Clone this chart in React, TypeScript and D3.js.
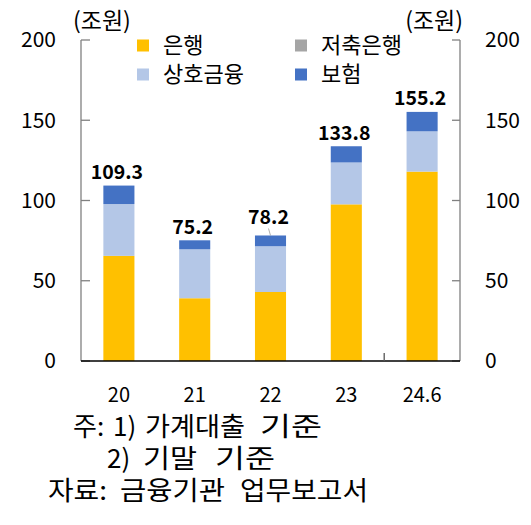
import React from 'react';
import * as d3 from 'd3';

// 가계대출 잔액 (조원)
const categories = ['20', '21', '22', '23', '24.6'];
const bank = [65.5, 39.1, 43.0, 97.6, 118.0];
const savingsBank = [0, 0, 0, 0, 0];
const mutual = [32.3, 30.5, 28.5, 26.1, 25.1];
const insurance = [11.5, 5.6, 6.7, 10.1, 12.1];
const totals = [109.3, 75.2, 78.2, 133.8, 155.2];
const yTicks = [0, 50, 100, 150, 200];

const seriesNames = ['은행', '저축은행', '상호금융', '보험'];
const colors = ['#FFC000', '#A5A5A5', '#B4C7E7', '#4472C4'];

// footnote lines, split into words: [x, text, width (0 = natural)]
const notes: { y: number; parts: [number, string, number][] }[] = [
  { y: 427, parts: [[73, '주:', 0], [113, '1)', 0], [145, '가계대출', 100], [260, '기준', 62]] },
  { y: 459, parts: [[107, '2)', 0], [143, '기말', 54], [215, '기준', 60]] },
  { y: 491, parts: [[48, '자료:', 59], [120, '금융기관', 105], [240, '업무보고서', 128]] },
];

const W = 531;
const H = 525;
const FONT = "'Noto Sans CJK KR', 'Noto Sans', sans-serif";

const App: React.FC = () => {
  const x = d3.scaleBand<string>()
    .domain(categories)
    .range([81, 460])
    .paddingInner(0.59)
    .paddingOuter(0.295);

  const y = d3.scaleLinear().domain([0, 200]).range([361, 40]);

  const rows = categories.map((c, i) => ({
    cat: c,
    '은행': bank[i],
    '저축은행': savingsBank[i],
    '상호금융': mutual[i],
    '보험': insurance[i],
  }));
  const stacked = d3.stack<any>().keys(seriesNames)(rows);

  const [x0, x1] = x.range();
  // tick between 23 and 24.6 on the category axis
  const catTick = x0 + x.step() * 4;

  return (
    <svg width={W} height={H} style={{ position: 'absolute', left: 0, top: 0, background: '#fff' }}
      fontFamily={FONT}>
      {/* bars */}
      {stacked.map((s, si) => (
        <g key={s.key} fill={colors[si]}>
          {s.map((d, i) => (
            <rect key={i}
              x={x(categories[i])}
              y={y(d[1])}
              width={x.bandwidth()}
              height={Math.max(0, y(d[0]) - y(d[1]))} />
          ))}
        </g>
      ))}

      {/* left axis */}
      <line x1={x0} x2={x0} y1={y(200)} y2={y(0)} stroke="#808080" strokeWidth={1.3} />
      {yTicks.map(t => (
        <g key={'l' + t}>
          <line x1={x0} x2={x0 + 9} y1={y(t)} y2={y(t)} stroke="#808080" strokeWidth={1.3} />
          <text x={56} y={y(t)} dy="0.35em" textAnchor="end" fontSize={21} fill="#000">{t}</text>
        </g>
      ))}
      {/* right axis */}
      <line x1={x1} x2={x1} y1={y(200)} y2={y(0)} stroke="#808080" strokeWidth={1.3} />
      {yTicks.map(t => (
        <g key={'r' + t}>
          <line x1={x1 - 8} x2={x1} y1={y(t)} y2={y(t)} stroke="#808080" strokeWidth={1.3} />
          <text x={485} y={y(t)} dy="0.35em" textAnchor="start" fontSize={21} fill="#000">{t}</text>
        </g>
      ))}
      {/* category axis */}
      <line x1={x0} x2={x1} y1={y(0)} y2={y(0)} stroke="#000" strokeWidth={1.5} />
      <line x1={catTick} x2={catTick} y1={y(0)} y2={y(0) - 8} stroke="#555" strokeWidth={1.3} />
      {categories.map(c => (
        <text key={c} x={(x(c) ?? 0) + x.bandwidth() / 2} y={395} dy="0.35em"
          textAnchor="middle" fontSize={20} fill="#000">{c}</text>
      ))}

      {/* units */}
      <text x={73} y={21} dy="0.35em" fontSize={23} fill="#000">(조원)</text>
      <text x={463} y={21} dy="0.35em" textAnchor="end" fontSize={23} fill="#000">(조원)</text>

      {/* legend: 은행, 저축은행 on first row; 상호금융, 보험 on second */}
      {seriesNames.map((n, i) => {
        const lx = i % 2 === 0 ? 137 : 295;
        const ly = i < 2 ? 45.5 : 74.5;
        return (
          <g key={n}>
            <rect x={lx} y={ly - 6} width={12} height={12} fill={colors[i]} />
            <text x={lx + 26} y={ly} dy="0.35em" fontSize={22} fill="#000">{n}</text>
          </g>
        );
      })}

      {/* total labels */}
      {totals.map((t, i) => {
        const cx = (x(categories[i]) ?? 0) + x.bandwidth() / 2;
        const top = y(t);
        const leader = i === 2;
        const base = top - (leader ? 11 : 6.5);
        return (
          <g key={'t' + i}>
            {leader && (
              <line x1={cx - 2} y1={base + 4} x2={cx} y2={top} stroke="#999" strokeWidth={0.8} />
            )}
            <text x={cx - 2} y={base} textAnchor="middle" fontSize={19.5} fontWeight="bold" fill="#000">
              {t.toFixed(1)}
            </text>
          </g>
        );
      })}

      {/* notes */}
      {notes.map((line, li) => (
        <g key={'n' + li}>
          {line.parts.map(([px, s, w], pi) => (
            <text key={pi} x={px} y={line.y} dy="0.35em" fontSize={26} fill="#000"
              {...(w > 0 ? { textLength: w, lengthAdjust: 'spacingAndGlyphs' } : {})}>{s}</text>
          ))}
        </g>
      ))}
    </svg>
  );
};

export default App;
